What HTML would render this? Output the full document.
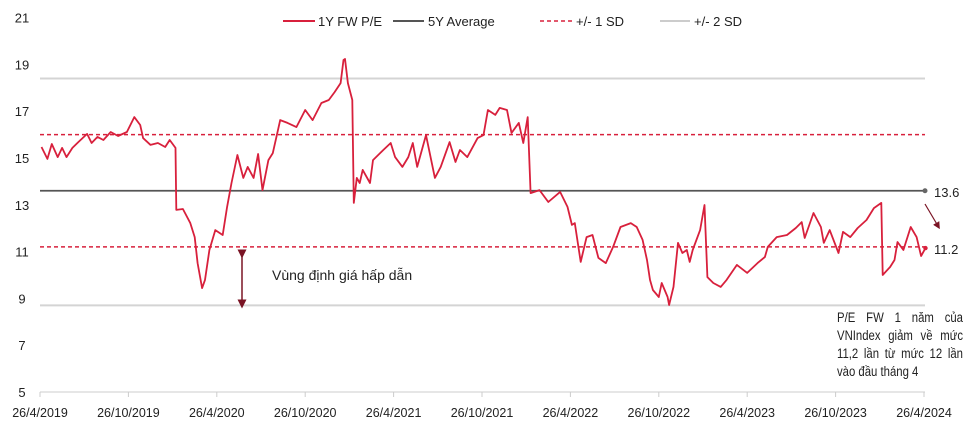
<!DOCTYPE html>
<html><head><meta charset="utf-8"><style>
body{margin:0;background:#fff;width:978px;height:439px;overflow:hidden;font-family:"Liberation Sans",sans-serif;}
svg text{font-family:"Liberation Sans","Noto Sans CJK SC",sans-serif;}
.note{position:absolute;left:837px;top:309px;width:150px;font-size:13.5px;line-height:18px;color:#222;transform:scaleX(0.84);transform-origin:0 0;}
.note div{text-align:justify;text-align-last:justify;white-space:nowrap;}
.note div.last{text-align-last:left;}
</style></head><body>
<svg id="chart" width="978" height="439" viewBox="0 0 978 439" xmlns="http://www.w3.org/2000/svg">
<defs><marker id="ah" markerWidth="6" markerHeight="6" refX="3" refY="3" orient="auto"><path d="M0,0 L6,3 L0,6 z" fill="#7a1424"/></marker></defs>
<g id="grid"></g><g id="series"></g><g id="axes"></g>
<g>
<line x1="283" y1="21" x2="315" y2="21" stroke="#d8203c" stroke-width="2"/>
<text x="318" y="26" font-size="13" fill="#222">1Y FW P/E</text>
<line x1="393" y1="21" x2="424" y2="21" stroke="#555" stroke-width="2"/>
<text x="428" y="26" font-size="13" fill="#222">5Y Average</text>
<line x1="540" y1="21" x2="572" y2="21" stroke="#d8203c" stroke-width="1.5" stroke-dasharray="4,3"/>
<text x="576" y="26" font-size="13" fill="#222">+/- 1 SD</text>
<line x1="660" y1="21" x2="690" y2="21" stroke="#ccc" stroke-width="2"/>
<text x="694" y="26" font-size="13" fill="#222">+/- 2 SD</text>
</g>
<line x1="242" y1="254" x2="242" y2="304" stroke="#7a1424" stroke-width="1.5" marker-start="url(#ah)" marker-end="url(#ah)"/>
<text x="272" y="280" font-size="14" fill="#222">Vùng định giá hấp dẫn</text>
<line x1="925" y1="204" x2="938" y2="226" stroke="#7a1424" stroke-width="1.2" marker-end="url(#ah)"/>
<text x="934" y="197" font-size="13" fill="#222">13.6</text>
<text x="934" y="254" font-size="13" fill="#222">11.2</text>
</svg>
<div class="note"><div>P/E FW 1 năm của</div><div>VNIndex giảm về mức</div><div>11,2 lần từ mức 12 lần</div><div class="last">vào đầu tháng 4</div></div>
<script>
const months=[0.1,0.5,0.8,1.2,1.5,1.8,2.2,2.6,3.2,3.5,3.9,4.3,4.8,5.3,5.9,6.4,6.8,7.0,7.5,8.0,8.5,8.8,9.2,9.25,9.7,10.2,10.5,10.7,11.0,11.2,11.5,11.9,12.4,12.7,13.0,13.4,13.8,14.1,14.5,14.8,15.1,15.5,15.8,16.3,16.8,17.4,18.0,18.5,19.1,19.6,20.0,20.4,20.6,20.7,20.9,21.2,21.3,21.5,21.7,21.9,22.4,22.6,23.3,23.8,24.1,24.6,25.0,25.3,25.6,26.2,26.8,27.2,27.8,28.2,28.5,29.0,29.7,30.1,30.4,30.9,31.2,31.7,32.0,32.5,32.8,33.1,33.3,33.9,34.5,35.3,35.8,36.1,36.3,36.7,37.1,37.5,37.9,38.4,38.9,39.4,40.1,40.5,40.9,41.2,41.4,41.6,42.0,42.2,42.6,42.7,43.0,43.3,43.6,43.9,44.1,44.3,44.8,45.1,45.3,45.7,46.2,46.6,47.3,48.0,48.7,49.2,49.4,50.0,50.7,51.3,51.7,51.9,52.5,53.0,53.2,53.6,54.2,54.5,55.0,55.5,56.1,56.6,57.1,57.2,57.7,58.0,58.2,58.6,59.1,59.5,59.8,60.1];
const peValues=[15.47,14.96,15.6,15.04,15.43,15.04,15.43,15.68,16.03,15.64,15.9,15.77,16.11,15.94,16.11,16.75,16.41,15.85,15.56,15.64,15.47,15.77,15.43,12.78,12.82,12.22,11.62,10.51,9.44,9.79,11.07,11.92,11.71,12.91,13.93,15.13,14.15,14.62,14.15,15.17,13.63,14.91,15.21,16.62,16.5,16.32,17.05,16.62,17.35,17.48,17.82,18.2,19.19,19.23,18.2,17.48,13.08,14.15,13.93,14.49,13.93,14.91,15.34,15.64,15.04,14.62,15.04,15.64,14.62,15.98,14.15,14.62,15.68,14.83,15.34,15.04,15.85,15.98,17.05,16.84,17.14,17.05,16.07,16.5,15.64,16.75,13.5,13.63,13.12,13.55,12.91,12.14,12.22,10.56,11.62,11.71,10.73,10.51,11.2,12.05,12.22,12.05,11.5,10.64,9.79,9.36,9.06,9.66,9.06,8.72,9.49,11.37,10.94,11.07,10.56,11.07,11.92,12.99,9.91,9.66,9.49,9.79,10.43,10.09,10.51,10.77,11.2,11.62,11.71,12.01,12.26,11.58,12.65,12.05,11.37,11.92,10.94,11.84,11.62,12.01,12.35,12.86,13.08,10.0,10.34,10.64,11.41,11.07,12.05,11.62,10.81,11.15];
const average=13.6;
const sd1Band=[16.0,11.2];
const sd2Band=[18.4,8.7];
const yTicks=[5,7,9,11,13,15,17,19,21];
const xTickLabels=["26/4/2019","26/10/2019","26/4/2020","26/10/2020","26/4/2021","26/10/2021","26/4/2022","26/10/2022","26/4/2023","26/10/2023","26/4/2024"];

const X0=40,X1=924,Y0=392,PPU=23.4;
function xs(m){return X0+m*(X1-X0)/60;}
function ys(v){return Y0-(v-5)*PPU;}
const NS="http://www.w3.org/2000/svg";
function mk(tag,attrs,parent){const e=document.createElementNS(NS,tag);for(const k in attrs)e.setAttribute(k,attrs[k]);parent.appendChild(e);return e;}
const grid=document.getElementById('grid'),series=document.getElementById('series'),axes=document.getElementById('axes');

sd2Band.forEach(v=>{
 const l=mk('line',{x1:X0,x2:X1+1,y1:ys(v),y2:ys(v),stroke:'#d4d4d4','stroke-width':2},grid);
 
 
});
sd1Band.forEach(v=>{
 const l=mk('line',{x1:X0,x2:X1+1,y1:ys(v),y2:ys(v),stroke:'#d8203c','stroke-width':1.5,'stroke-dasharray':'4,3'},grid);
 
 
});
const avg=mk('line',{x1:X0,x2:X1+1,y1:ys(average),y2:ys(average),stroke:'#555','stroke-width':1.8},grid);


const dot=mk('circle',{cx:X1+1,cy:ys(average),r:2.5,fill:'#666'},grid);



let d='';
months.forEach((m,i)=>{d+=(i?'L':'M')+xs(m).toFixed(1)+','+ys(peValues[i]).toFixed(1);});
const p=mk('path',{d:d,fill:'none',stroke:'#d8203c','stroke-width':1.8,'stroke-linejoin':'round'},series);


const endDot=mk('circle',{cx:xs(months[months.length-1]),cy:ys(peValues[peValues.length-1]),r:2.2,fill:'#d8203c'},series);



const ax=mk('line',{x1:X0,x2:X1+1,y1:Y0,y2:Y0,stroke:'#ccc','stroke-width':1},axes);


yTicks.forEach(v=>{
 const t=mk('text',{x:22,y:ys(v)+5,'font-size':13,fill:'#222','text-anchor':'middle'},axes);
 t.textContent=v;
 
 
});
xTickLabels.forEach((s,i)=>{
 const x=xs(i*6);
 mk('line',{x1:x,x2:x,y1:Y0,y2:Y0+5,stroke:'#ccc'},axes);
 const t=mk('text',{x:x,y:417,'font-size':12.5,fill:'#222','text-anchor':'middle'},axes);
 t.textContent=s;
 
 
});
</script>
</body></html>
